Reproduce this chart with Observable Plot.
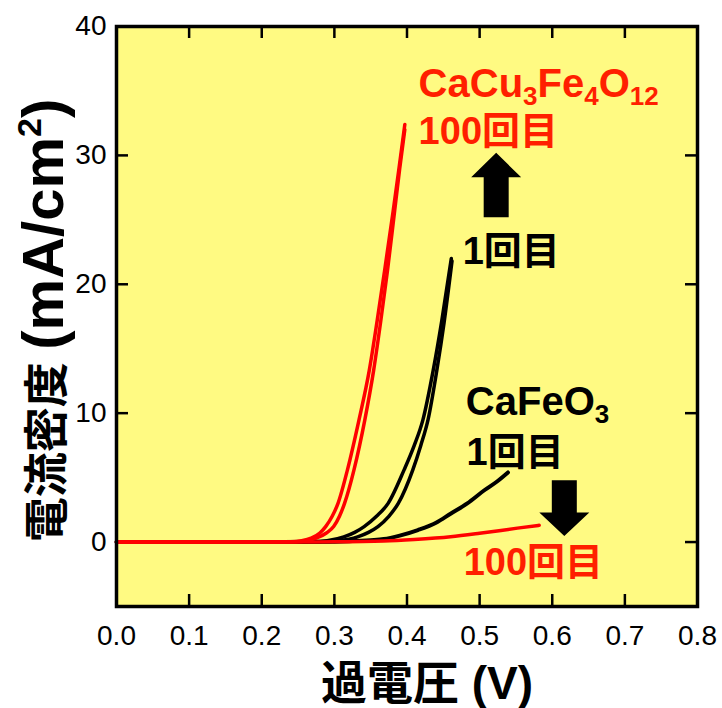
<!DOCTYPE html>
<html><head><meta charset="utf-8">
<script src="https://cdn.jsdelivr.net/npm/d3@7"></script>
<script src="https://cdn.jsdelivr.net/npm/@observablehq/plot@0.6"></script>
<style>html,body{margin:0;padding:0;background:#fff;}</style>
</head><body><div id="chart"></div>
<script>
// ---- tick values ----
const xTicks = [0, 0.1, 0.2, 0.3, 0.4, 0.5, 0.6, 0.7, 0.8];
const yTicks = [0, 10, 20, 30, 40];
const xInnerTicks = [0.1, 0.2, 0.3, 0.4, 0.5, 0.6, 0.7];
const yInnerTicks = [0, 10, 20, 30];

// ---- CaCu3Fe4O12, 100th cycle (red, two scans) ----
const ccfo100aX = [0, 0.10, 0.20, 0.24, 0.255, 0.268, 0.280, 0.288, 0.297, 0.305, 0.318, 0.334, 0.348, 0.359, 0.369, 0.381, 0.389, 0.397];
const ccfo100aY = [0, 0, 0, 0.02, 0.1, 0.3, 0.7, 1.2, 2.0, 3.0, 5.6, 9.5, 13.3, 17.2, 21.0, 25.7, 29.0, 32.4];
const ccfo100bX = [0, 0.10, 0.20, 0.245, 0.262, 0.275, 0.289, 0.299, 0.307, 0.314, 0.327, 0.342, 0.354, 0.364, 0.373, 0.383, 0.390, 0.397];
const ccfo100bY = [0, 0, 0, 0.02, 0.1, 0.3, 0.7, 1.2, 2.0, 3.0, 5.6, 9.5, 13.3, 17.2, 21.0, 25.7, 29.0, 32.0];

// ---- CaCu3Fe4O12, 1st cycle (black, two scans) ----
const ccfo1aX = [0, 0.10, 0.20, 0.27, 0.29, 0.313, 0.328, 0.341, 0.358, 0.374, 0.396, 0.410, 0.422, 0.436, 0.448, 0.461];
const ccfo1aY = [0, 0, 0, 0.02, 0.1, 0.4, 0.75, 1.2, 2.0, 3.0, 5.6, 7.5, 9.5, 13.3, 17.2, 22.0];
const ccfo1bX = [0, 0.10, 0.20, 0.28, 0.305, 0.332, 0.347, 0.360, 0.375, 0.388, 0.408, 0.419, 0.429, 0.441, 0.451, 0.462];
const ccfo1bY = [0, 0, 0, 0.02, 0.1, 0.4, 0.75, 1.2, 2.0, 3.0, 5.6, 7.5, 9.5, 13.3, 17.0, 21.8];

// ---- CaFeO3, 1st cycle (black) ----
const cfo1X = [0, 0.10, 0.20, 0.28, 0.32, 0.35, 0.368, 0.39, 0.415, 0.44, 0.46, 0.483, 0.506, 0.524, 0.539];
const cfo1Y = [0, 0, 0, 0.02, 0.07, 0.15, 0.23, 0.5, 0.93, 1.5, 2.2, 3.0, 4.0, 4.7, 5.4];

// ---- CaFeO3, 100th cycle (red) ----
const cfo100X = [0, 0.10, 0.20, 0.30, 0.368, 0.41, 0.46, 0.50, 0.552, 0.582];
const cfo100Y = [0, 0, 0, 0.02, 0.08, 0.2, 0.41, 0.68, 1.08, 1.3];

// ---- annotations (data coordinates) ----
const redLabels = ["CaCu3Fe4O12", "100回目", "100回目"];
const redLabelX = [0.416, 0.416, 0.478];
const redLabelY = [34.5, 30.85, -2.56];
const blackLabels = ["1回目", "CaFeO3", "1回目"];
const blackLabelX = [0.4766, 0.481, 0.482];
const blackLabelY = [21.6, 9.84, 5.97];

// block arrows: centre x, tail, head base, tip (data units)
const arrowX = [0.5228, 0.6166];
const arrowTail = [25.2, 4.8];
const arrowBase = [28.3, 2.3];
const arrowTip = [30.2, 0.47];

const W = 722, H = 708;
const mL = 116, mR = 25, mT = 26, mB = 102;
const frameW = W - mL - mR, frameH = H - mT - mB;
const pxX = 0.8 / frameW;
const shaftHalf = 12.5 * pxX, headHalf = 25 * pxX;

const toRows = (xs, ys, id) => xs.map((x, i) => ({x, y: ys[i], id}));
const redRows = [
  ...toRows(ccfo100aX, ccfo100aY, "a"),
  ...toRows(ccfo100bX, ccfo100bY, "b"),
  ...toRows(cfo100X, cfo100Y, "c")
];
const blackRows = [
  ...toRows(ccfo1aX, ccfo1aY, "a"),
  ...toRows(ccfo1bX, ccfo1bY, "b")
];
const cfoRows = toRows(cfo1X, cfo1Y, "c");

const arrowRows = arrowX.flatMap((cx, i) => [
  {x: cx - shaftHalf, y: arrowTail[i]},
  {x: cx - shaftHalf, y: arrowBase[i]},
  {x: cx - headHalf, y: arrowBase[i]},
  {x: cx, y: arrowTip[i]},
  {x: cx + headHalf, y: arrowBase[i]},
  {x: cx + shaftHalf, y: arrowBase[i]},
  {x: cx + shaftHalf, y: arrowTail[i]}
].map(d => ({...d, id: i})));

const redAnn = redLabels.map((t, i) => ({t, x: redLabelX[i], y: redLabelY[i]}));
const blackAnn = blackLabels.map((t, i) => ({t, x: blackLabelX[i], y: blackLabelY[i]}));

const FONT = "'Liberation Sans', Arial, Helvetica, 'Noto Sans CJK JP', sans-serif";
const BG = "#fffa82";
const RED = "#ff0000";
const RED_TEXT = "#ff1f00";

const svg = Plot.plot({
  width: W, height: H,
  marginLeft: mL, marginRight: mR, marginTop: mT, marginBottom: mB,
  style: {fontFamily: FONT, background: "#fff", color: "#000", overflow: "visible"},
  x: {domain: [0, 0.8], label: null, axis: null},
  y: {domain: [-5, 40], label: null, axis: null},
  marks: [
    Plot.frame({fill: BG, stroke: "none"}),
    // inward ticks on all four sides
    Plot.ruleX(xInnerTicks, {insetTop: frameH - 12, stroke: "#000", strokeWidth: 2.5}),
    Plot.ruleX(xInnerTicks, {insetBottom: frameH - 12, stroke: "#000", strokeWidth: 2.5}),
    Plot.ruleY(yInnerTicks, {insetRight: frameW - 12, stroke: "#000", strokeWidth: 2.5}),
    Plot.ruleY(yInnerTicks, {insetLeft: frameW - 12, stroke: "#000", strokeWidth: 2.5}),
    // curves
    Plot.line(cfoRows, {x: "x", y: "y", z: "id", stroke: "#000", strokeWidth: 4, curve: "monotone-x"}),
    Plot.line(blackRows, {x: "x", y: "y", z: "id", stroke: "#000", strokeWidth: 3.5, curve: "monotone-x"}),
    Plot.line(redRows, {x: "x", y: "y", z: "id", stroke: RED, strokeWidth: 3.5, curve: "monotone-x"}),
    // arrows
    Plot.line(arrowRows, {x: "x", y: "y", z: "id", fill: "#000", stroke: "none"}),
    // labels
    Plot.text(redAnn, {x: "x", y: "y", text: "t", fill: RED_TEXT, textAnchor: "start", lineAnchor: "bottom", fontSize: 38, fontWeight: "bold"}),
    Plot.text(blackAnn, {x: "x", y: "y", text: "t", fill: "#000", textAnchor: "start", lineAnchor: "bottom", fontSize: 38, fontWeight: "bold"}),
    // axes
    Plot.axisX(xTicks, {tickSize: 0, tickPadding: 19, fontSize: 28, tickFormat: d => d.toFixed(1), label: null}),
    Plot.axisY(yTicks, {tickSize: 0, tickPadding: 10, fontSize: 28, tickFormat: d => String(d), label: null}),
    // axis titles
    Plot.text(["過電圧 (V)"], {frameAnchor: "bottom", dy: 92, dx: 20, textAnchor: "middle", lineAnchor: "bottom", fontSize: 46, fontWeight: "bold", fill: "#000"}),
    Plot.text(["電流密度 (mA/cm2)"], {frameAnchor: "left", dx: -54, dy: 4, rotate: -90, textAnchor: "middle", lineAnchor: "bottom", fontSize: 45, fontWeight: "bold", fill: "#000"}),
    Plot.frame({stroke: "#000", strokeWidth: 3.5})
  ]
});

// rich text (sub/superscripts, mixed sizes)
function richify(match, parts) {
  d3.select(svg).selectAll("text").filter(function () { return this.textContent === match; }).each(function () {
    const t = d3.select(this);
    t.text(null);
    for (const p of parts) {
      const ts = t.append("tspan").text(p.t);
      if (p.size) ts.attr("font-size", p.size);
      if (p.dy) ts.attr("dy", p.dy);
    }
  });
}
richify("CaCu3Fe4O12", [
  {t: "CaCu", size: 40}, {t: "3", size: 26, dy: 8}, {t: "Fe", size: 40, dy: -8},
  {t: "4", size: 26, dy: 8}, {t: "O", size: 40, dy: -8}, {t: "12", size: 26, dy: 8}
]);
richify("CaFeO3", [{t: "CaFeO", size: 40}, {t: "3", size: 26, dy: 8}]);
richify("電流密度 (mA/cm2)", [
  {t: "電流密度 ", size: 45}, {t: "(mA/cm", size: 58}, {t: "2", size: 34, dy: -22}, {t: ")", size: 58, dy: 22}
]);

document.getElementById("chart").appendChild(svg);
</script></body></html>
